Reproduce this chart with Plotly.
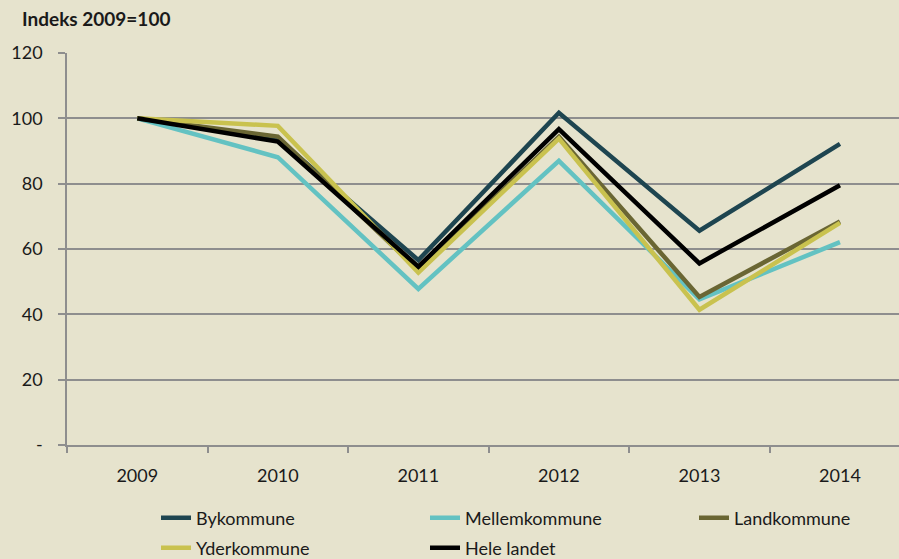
import plotly.graph_objects as go

aar = ['2009', '2010', '2011', '2012', '2013', '2014']

bykommune = [100, 93.8, 56.6, 101.7, 65.6, 92.2]
mellemkommune = [100, 88.1, 47.8, 87.0, 44.6, 62.1]
landkommune = [100, 94.4, 53.5, 94.4, 45.3, 68.4]
yderkommune = [100, 97.7, 52.8, 93.8, 41.4, 68.0]
hele_landet = [100, 92.9, 54.6, 96.7, 55.6, 79.5]

y_ticks = [0, 20, 40, 60, 80, 100, 120]
y_ticktext = ['-', '20', '40', '60', '80', '100', '120']

serier = [
    ('Bykommune', bykommune, '#1E4550'),
    ('Mellemkommune', mellemkommune, '#63C2C2'),
    ('Landkommune', landkommune, '#6A6633'),
    ('Yderkommune', yderkommune, '#C9C24F'),
    ('Hele landet', hele_landet, '#000000'),
]

bg = '#E6E3CD'
grid = '#8E8E8E'
font = 'Lato, Carlito, sans-serif'

# plot area in pixels
L, R, T, B = 67, 899, 53, 445
W, H = R - L, B - T

def px_x(p):
    return (p - L) / W

def px_y(p):
    return (B - p) / H

# legend slots (pixel positions: line start x, row centre y)
slots = [(156, 518), (425, 518), (694, 518), (156, 548), (425, 548)]

fig = go.Figure()
legends = {}
for i, (navn, vaerdier, farve) in enumerate(serier):
    lg = 'legend' if i == 0 else f'legend{i + 1}'
    fig.add_trace(go.Scatter(
        x=aar, y=vaerdier, name=navn, mode='lines',
        line=dict(color=farve, width=4.5), legend=lg,
    ))
    sx, sy = slots[i]
    legends[lg] = dict(
        x=px_x(sx), xanchor='left', y=px_y(sy), yanchor='middle',
        orientation='h', bgcolor='rgba(0,0,0,0)', borderwidth=0,
        font=dict(family=font, size=18, color='#1a1a1a'),
    )

fig.update_layout(
    width=899, height=559,
    paper_bgcolor=bg, plot_bgcolor=bg,
    margin=dict(l=L, r=899 - R, t=T, b=559 - B, autoexpand=False),
    font=dict(family=font, size=18, color='#1a1a1a'),
    showlegend=True,
    annotations=[dict(
        text='<b>Indeks 2009=100</b>', x=px_x(20), xanchor='left',
        y=px_y(18), yanchor='middle', xref='paper', yref='paper',
        showarrow=False, font=dict(size=19),
    )],
    **legends,
)

fig.update_xaxes(
    type='category', range=[-0.5, 5.42],
    showgrid=False, showline=True, linecolor=grid, linewidth=1.5,
    ticks='outside', tickson='boundaries', ticklen=6, tickcolor=grid,
    tickwidth=1.5, ticklabelstandoff=14,
)
fig.update_yaxes(
    range=[0, 120], tickvals=y_ticks, ticktext=y_ticktext,
    showgrid=True, gridcolor=grid, gridwidth=1.5,
    showline=True, linecolor=grid, linewidth=1.5,
    ticks='outside', ticklen=7, tickcolor=grid, tickwidth=1.5,
    ticklabelstandoff=12, zeroline=False,
)

fig.write_html("out.html", config={'displayModeBar': False},
               post_script="document.body.style.margin='0';")
